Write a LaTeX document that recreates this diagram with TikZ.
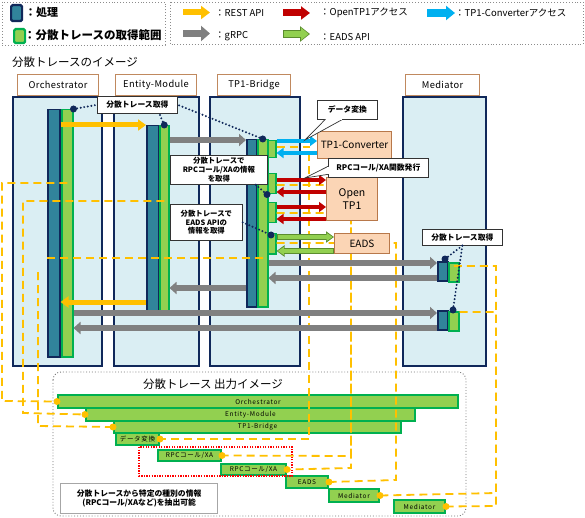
\documentclass[tikz,border=0pt]{standalone}
\usepackage{fontspec}
\setmainfont{Noto Sans CJK JP}
\usetikzlibrary{arrows.meta,calc}
\definecolor{bodyfill}{HTML}{DAEEF3}
\definecolor{navy}{HTML}{10285A}
\definecolor{hdrb}{HTML}{C0895E}
\definecolor{tealb}{HTML}{31849B}
\definecolor{lgreen}{HTML}{92D050}
\definecolor{dgreen}{HTML}{00B050}
\definecolor{amber}{HTML}{FFC000}
\definecolor{dred}{HTML}{C00000}
\definecolor{cyanb}{HTML}{00B0F0}
\definecolor{grayb}{HTML}{808080}
\definecolor{peach}{HTML}{FBD5B5}
\definecolor{peachb}{HTML}{B8784A}
\definecolor{eadsd}{HTML}{5B8C2E}
\begin{document}
\begin{tikzpicture}[x=1pt,y=-1pt,
  body/.style={draw=navy, line width=2pt, fill=bodyfill, inner sep=0, anchor=north west},
  hdr/.style={draw=hdrb, line width=1pt, fill=white, anchor=north west, inner sep=0, font=\fontsize{9.3}{10}\selectfont\addfontfeature{LetterSpace=4}},
  pbar/.style={draw=navy, line width=1.5pt, fill=tealb, anchor=north west, inner sep=0},
  gbar/.style={draw=dgreen, line width=1.5pt, fill=lgreen, anchor=north west, inner sep=0},
  svc/.style={draw=peachb, line width=1pt, fill=peach, anchor=north west, inner sep=0, align=center, font=\fontsize{10}{12}\selectfont},
  callb/.style={draw=black!80, line width=0.7pt, fill=white},
  note/.style={callb, anchor=north west, inner sep=0, align=center, font=\bfseries\fontsize{7.4}{8.8}\selectfont},
  ndot/.style={circle, fill=navy, inner sep=0, minimum size=7pt},
  ydot/.style={circle, fill=amber, inner sep=0, minimum size=7pt},
  trace/.style={amber, line width=1.8pt, dash pattern=on 8pt off 5pt},
  tdot/.style={navy, line width=2.2pt, line cap=round, dash pattern=on 0pt off 3.6pt},
  obar/.style={draw=dgreen, line width=2pt, fill=lgreen, anchor=north west, inner sep=0, font=\fontsize{6.5}{7}\selectfont\addfontfeature{LetterSpace=10}},
  legbox/.style={draw=black!45, dotted, line width=0.9pt},
  yarrow/.style={amber, line width=5pt, -{Triangle[length=8pt,width=11pt]}},
  garrow/.style={grayb, line width=5.5pt, -{Triangle[length=7pt,width=12pt]}},
  rarrow/.style={dred, line width=4.5pt, -{Triangle[length=7pt,width=10pt]}},
  barrow/.style={cyanb, line width=4.5pt, -{Triangle[length=7pt,width=10pt]}},
  earrowo/.style={eadsd, line width=5.5pt, -{Triangle[length=8pt,width=11pt]}},
  earrowi/.style={lgreen, line width=3.3pt, -{Triangle[length=6pt,width=7.5pt]}, shorten >=1.3pt, shorten <=1pt},
  ltext/.style={anchor=west, inner sep=0, font=\fontsize{9.5}{10}\selectfont}
]
\useasboundingbox (0,0) rectangle (585,518);

% ---------------- legend ----------------
\draw[legbox] (2,2) rectangle (165,45);
\draw[legbox] (170,2) rectangle (583,44);
\node[draw=navy, line width=2.2pt, fill=tealb, rounded corners=1.5pt, minimum width=11pt, minimum height=16pt, inner sep=0, anchor=north west] (lgP) at (10,4) {};
\node[draw=dgreen, line width=2.2pt, fill=lgreen, rounded corners=1.5pt, minimum width=11pt, minimum height=14pt, inner sep=0, anchor=north west] (lgG) at (13,28) {};
\node[anchor=west, inner sep=0, font=\bfseries\fontsize{11}{12}\selectfont] (lgPt) at (25,12.5) {：処理};
\node[anchor=west, inner sep=0, font=\bfseries\fontsize{11.5}{12}\selectfont] (lgGt) at (24,35.5) {：分散トレースの取得範囲};
\draw[amber, line width=6pt, -{Triangle[length=9pt,width=13pt]}] (183,12.5) -- (210,12.5);
\draw[grayb, line width=7.5pt, -{Triangle[length=9pt,width=15pt]}] (183,33.5) -- (210,33.5);
\draw[dred, line width=7pt, -{Triangle[length=9pt,width=13pt]}] (283,13) -- (310,13);
\draw[cyanb, line width=7.5pt, -{Triangle[length=9pt,width=14pt]}] (427,13) -- (455,13);
\draw[eadsd, line width=8pt, -{Triangle[length=10pt,width=15pt]}] (283,34) -- (310,34);
\draw[lgreen, line width=6pt, -{Triangle[length=7.5pt,width=11.5pt]}, shorten >=1.3pt, shorten <=1pt] (283,34) -- (310,34);
\node[ltext] (lgRest) at (215,13) {：REST API};
\node[ltext] (lgGrpc) at (215,36) {：gRPC};
\node[ltext] (lgOtp) at (320,13) {：OpenTP1アクセス};
\node[ltext] (lgConv) at (455,13) {：TP1-Converterアクセス};
\node[ltext] (lgEads) at (320,37) {：EADS API};

\node[anchor=west, inner sep=0, font=\fontsize{11.5}{12}\selectfont] (title) at (12,62) {分散トレースのイメージ};

% ---------------- components ----------------
\node[body, minimum width=89pt, minimum height=269pt] (orchB) at (12,96) {};
\node[body, minimum width=85pt, minimum height=269pt] (entB) at (113,96) {};
\node[body, minimum width=90pt, minimum height=269pt] (tpbB) at (209,96) {};
\node[body, minimum width=83pt, minimum height=269pt] (medB) at (402,96) {};
\node[hdr, minimum width=81pt, minimum height=21pt] (orchH) at (17,74) {Orchestrator};
\node[hdr, minimum width=81pt, minimum height=21pt] (entH) at (115,74) {Entity-Module};
\node[hdr, minimum width=73pt, minimum height=21pt] (tpbH) at (217,74) {TP1-Bridge};
\node[hdr, minimum width=74pt, minimum height=21pt] (medH) at (405,74) {Mediator};

% bars
\node[pbar, minimum width=12pt, minimum height=247pt] (orchP) at (47,109) {};
\node[gbar, minimum width=11pt, minimum height=247pt] (orchG) at (61,109) {};
\node[pbar, minimum width=12pt, minimum height=185pt] (entP) at (146,125) {};
\node[gbar, minimum width=9pt, minimum height=185pt] (entG) at (159,125) {};
\node[gbar, minimum width=8pt, minimum height=17pt] (tpbS1) at (267,140) {};
\node[gbar, minimum width=8pt, minimum height=20pt] (tpbS2) at (267,173) {};
\node[gbar, minimum width=8pt, minimum height=20pt] (tpbS3) at (267,202) {};
\node[gbar, minimum width=8pt, minimum height=20pt] (tpbS4) at (267,233) {};
\node[pbar, minimum width=10pt, minimum height=167pt] (tpbP) at (246,139) {};
\node[gbar, minimum width=10pt, minimum height=167pt] (tpbG) at (257,139) {};
\node[pbar, minimum width=10pt, minimum height=19pt] (medP1) at (437,261) {};
\node[gbar, minimum width=10pt, minimum height=19pt] (medG1) at (448,262) {};
\node[pbar, minimum width=10pt, minimum height=19pt] (medP2) at (437,310) {};
\node[gbar, minimum width=10pt, minimum height=19pt] (medG2) at (448,311) {};

% ---------------- output image ----------------
\draw[draw=black!55, dotted, line width=0.9pt, rounded corners=8pt] (53,372) rectangle (466,516);
\node[inner sep=0, font=\fontsize{11.5}{12}\selectfont] (otitle) at (213,384) {分散トレース 出力イメージ};
\node[obar, minimum width=400pt, minimum height=13pt] (oOrch) at (57,394) {Orchestrator};
\node[obar, minimum width=329pt, minimum height=13pt] (oEnt) at (85,407) {Entity-Module};
\node[obar, minimum width=287pt, minimum height=12pt] (oTpb) at (113,420) {TP1-Bridge};
\node[obar, minimum width=43pt, minimum height=12pt] (oDv) at (115,432) {データ変換};
\node[obar, minimum width=63pt, minimum height=11pt] (oR1) at (157,449) {RPCコール/XA};
\node[obar, minimum width=65pt, minimum height=11pt] (oR2) at (220,463) {RPCコール/XA};
\node[obar, minimum width=42pt, minimum height=12pt] (oE) at (285,475) {EADS};
\node[obar, minimum width=50pt, minimum height=13pt] (oM1) at (328,488) {Mediator};
\node[obar, minimum width=51pt, minimum height=13pt] (oM2) at (393,499) {Mediator};

% ---------------- trace lines ----------------
\draw[trace] (orchG.center |- 0,183) -- (2,183) -- (2,401) -- (oOrch.west);
\draw[trace] (entG.center |- 0,201) -- (23,201) -- (23,413) -- (oEnt.west);
\draw[trace] (tpbG.center |- 0,258) -- (43,258);
\draw[trace] (38,272) -- (38,426) -- (oTpb.west);
\draw[trace] (tpbS1.east |- 0,147) -- (309,147) -- (309,439) -- (oDv.east);
\draw[trace] (tpbS2.east |- 0,185) -- (351,185) -- (351,456) -- (oR1.east);
\draw[trace] (tpbS3.east |- 0,213) -- (351,213) -- (351,468) -- (oR2.east);
\draw[trace] (tpbS4.east |- 0,243) -- (396,243) -- (396,480) -- (oE.east);
\draw[trace] (medG1.center |- 0,266) -- (496,266) -- (496,493) -- (oM1.east);
\draw[trace] (medG2.east |- 0,312) -- (496,312) -- (496,506) -- (oM2.east);

% ---------------- calls ----------------
\draw[yarrow] (orchP.east |- 0,125) -- (entP.west |- 0,125);
\draw[yarrow] (entP.west |- 0,302) -- (orchP.east |- 0,302);
\draw[garrow] (entG.east |- 0,140) -- (tpbP.west |- 0,140);
\draw[garrow] (tpbP.west |- 0,288) -- (entG.east |- 0,288);
\draw[garrow] (tpbG.east |- 0,263) -- (medP1.west |- 0,263);
\draw[garrow] (medP1.west |- 0,278) -- (tpbG.east |- 0,278);
\draw[garrow] (orchG.east |- 0,313) -- (medP2.west |- 0,313);
\draw[garrow] (medP2.west |- 0,328) -- (orchG.east |- 0,328);

% services
\node[svc, minimum width=74pt, minimum height=27pt] (conv) at (317,131) {TP1-Converter};
\node[svc, minimum width=51pt, minimum height=43pt, font=\fontsize{10.5}{13}\selectfont] (otp1) at (326,177) {Open\\TP1};
\node[svc, minimum width=55pt, minimum height=20pt] (eads) at (334,233) {EADS};

\draw[barrow] (tpbS1.east |- 0,141) -- (conv.west |- 0,141);
\draw[barrow] (conv.west |- 0,153) -- (tpbS1.east |- 0,153);
\draw[rarrow] (tpbS2.east |- 0,180) -- (otp1.west |- 0,180);
\draw[rarrow] (otp1.west |- 0,192) -- (tpbS2.east |- 0,192);
\draw[rarrow] (tpbS3.east |- 0,207) -- (otp1.west |- 0,207);
\draw[rarrow] (otp1.west |- 0,219) -- (tpbS3.east |- 0,219);
\draw[earrowo] (tpbS4.east |- 0,237) -- (eads.west |- 0,237);
\draw[earrowi] (tpbS4.east |- 0,237) -- (eads.west |- 0,237);
\draw[earrowo] (eads.west |- 0,251) -- (tpbS4.east |- 0,251);
\draw[earrowi] (eads.west |- 0,251) -- (tpbS4.east |- 0,251);

% ---------------- callouts ----------------
\node[note, minimum width=80pt, minimum height=17pt, font=\bfseries\fontsize{7.8}{8}\selectfont] (calTop) at (97,96) {分散トレース取得};
\node[note, minimum width=97pt, minimum height=29pt] (cal2) at (170,155) {分散トレースで\\RPCコール/XAの情報\\を取得};
\node[note, minimum width=72pt, minimum height=36pt] (cal3) at (170,204) {分散トレースで\\EADS APIの\\情報を取得};
\node[note, minimum width=80pt, minimum height=16pt, font=\bfseries\fontsize{7.8}{8}\selectfont] (cal4) at (422,229) {分散トレース取得};

\coordinate (pD) at (305,140);
\coordinate (pR) at (305,178);
\node[note, minimum width=60pt, minimum height=19pt, font=\bfseries\fontsize{7.8}{8}\selectfont] (cDV) at (317,100) {データ変換};
\filldraw[callb] ($(cDV.south west)+(8,0)$) -- (pD) -- ($(cDV.south west)+(25,0)$);
\fill[white] ($(cDV.south west)+(8.5,-0.6)$) rectangle ($(cDV.south west)+(24.5,0.6)$);
\node[note, minimum width=100pt, minimum height=19pt, font=\bfseries\fontsize{7.8}{8}\selectfont] (cRPC) at (328,158) {RPCコール/XA関数発行};
\filldraw[callb] ($(cRPC.west)+(0,-1.5)$) -- (pR) -- ($(cRPC.west)+(0,6.5)$);
\fill[white] ($(cRPC.west)+(-0.6,-1)$) rectangle ($(cRPC.west)+(0.6,6)$);

% navy dots + dotted leaders
\node[ndot] (d1) at (orchG.north east) {};
\node[ndot] (d2) at (entG.north) {};
\node[ndot] (d3) at (tpbG.north) {};
\node[ndot] (d4) at (tpbS2.south west) {};
\node[ndot] (d5) at (271,235) {};
\node[ndot] (d6) at (445,259) {};
\node[ndot] (d7) at (453,310) {};
\draw[tdot] (d1) -- (calTop.west);
\draw[tdot] (d2) -- ($(calTop.south)+(22,0)$);
\draw[tdot] (d3) -- (calTop.east);
\draw[tdot] ($(cal2.south east)+(-12,0)$) -- (d4);
\draw[tdot] (cal3.east) -- (d5);
\draw[tdot] (cal4.south) -- (d6);
\draw[tdot] (cal4.south) -- (d7);

% yellow dots on output bars
\node[ydot] (y1) at (oOrch.west) {};
\node[ydot] (y2) at (oEnt.west) {};
\node[ydot] (y3) at (oTpb.west) {};
\node[ydot] (y4) at (oDv.east) {};
\node[ydot] (y5) at (oR1.east) {};
\node[ydot] (y6) at (oR2.east) {};
\node[ydot] (y7) at (oE.east) {};
\node[ydot] (y8) at (oM1.east) {};
\node[ydot] (y9) at (oM2.east) {};

\draw[red, line width=1.3pt, dash pattern=on 1.3pt off 1.3pt] (139,447) rectangle (292,476);
\node[draw=black!35, line width=1.3pt, fill=white, anchor=north west, inner sep=0, align=center, minimum width=157pt, minimum height=30pt, font=\bfseries\fontsize{7.8}{9.5}\selectfont] (onote) at (60,483) {分散トレースから特定の種別の情報\\(RPCコール/XAなど)を抽出可能};
\end{tikzpicture}
\end{document}
